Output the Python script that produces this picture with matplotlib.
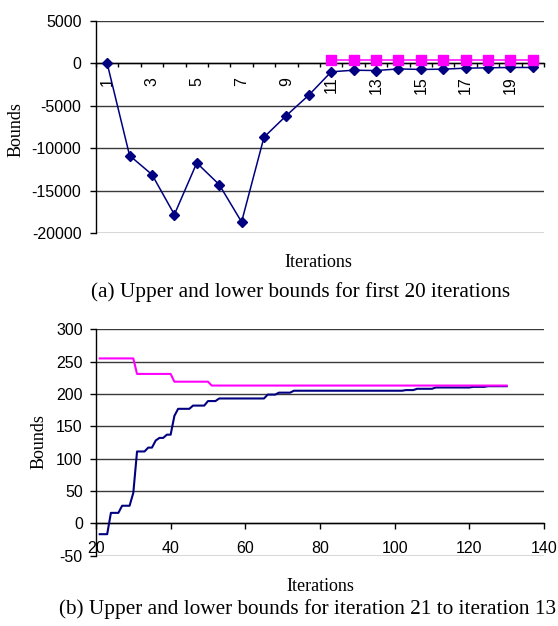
import numpy as np
import matplotlib.pyplot as plt

plt.rcParams['font.family'] = ['Liberation Sans', 'DejaVu Sans']
plt.rcParams['axes.unicode_minus'] = False

# ---- (a) 前20次迭代的上下界 ----
iter_a = [1, 2, 3, 4, 5, 6, 7, 8, 9, 10,
          11, 12, 13, 14, 15, 16, 17, 18, 19, 20]
lower_a = [0, -10840, -13080, -17790, -11710, -14260, -18660, -8680, -6130, -3730,
           -980, -790, -830, -640, -700, -670, -550, -510, -470, -470]
upper_a = [np.nan, np.nan, np.nan, np.nan, np.nan, np.nan, np.nan, np.nan, np.nan, np.nan,
           400, 400, 400, 400, 400, 400, 400, 400, 400, 400]
xlabels_a = ['1', '3', '5', '7', '9', '11', '13', '15', '17', '19']
yticks_a = [-20000, -15000, -10000, -5000, 0, 5000]

# ---- (b) 第21到130次迭代 ----
iter_b = [21, 22, 23, 24, 25, 26, 27, 28, 29, 30,
          31, 32, 33, 34, 35, 36, 37, 38, 39, 40,
          41, 42, 43, 44, 45, 46, 47, 48, 49, 50,
          51, 52, 53, 54, 55, 56, 57, 58, 59, 60,
          61, 62, 63, 64, 65, 66, 67, 68, 69, 70,
          71, 72, 73, 74, 75, 76, 77, 78, 79, 80,
          81, 82, 83, 84, 85, 86, 87, 88, 89, 90,
          91, 92, 93, 94, 95, 96, 97, 98, 99, 100,
          101, 102, 103, 104, 105, 106, 107, 108, 109, 110,
          111, 112, 113, 114, 115, 116, 117, 118, 119, 120,
          121, 122, 123, 124, 125, 126, 127, 128, 129, 130]
lower_b = [-17, -17, -17, 16, 16, 16, 27, 27, 27, 47,
           111, 111, 111, 117, 117, 128, 132, 132, 137, 137,
           166, 177, 177, 177, 177, 182, 182, 182, 182, 189,
           189, 189, 193, 193, 193, 193, 193, 193, 193, 193,
           193, 193, 193, 193, 193, 199, 199, 199, 202, 202,
           202, 202, 205, 205, 205, 205, 205, 205, 205, 205,
           205, 205, 205, 205, 205, 205, 205, 205, 205, 205,
           205, 205, 205, 205, 205, 205, 205, 205, 205, 205,
           205, 205, 206, 206, 206, 208, 208, 208, 208, 208,
           210, 210, 210, 210, 210, 210, 210, 210, 210, 210,
           211, 211, 211, 211, 212, 212, 212, 212, 212, 212]
upper_b = [255, 255, 255, 255, 255, 255, 255, 255, 255, 255,
           231, 231, 231, 231, 231, 231, 231, 231, 231, 231,
           219, 219, 219, 219, 219, 219, 219, 219, 219, 219,
           213, 213, 213, 213, 213, 213, 213, 213, 213, 213,
           213, 213, 213, 213, 213, 213, 213, 213, 213, 213,
           213, 213, 213, 213, 213, 213, 213, 213, 213, 213,
           213, 213, 213, 213, 213, 213, 213, 213, 213, 213,
           213, 213, 213, 213, 213, 213, 213, 213, 213, 213,
           213, 213, 213, 213, 213, 213, 213, 213, 213, 213,
           213, 213, 213, 213, 213, 213, 213, 213, 213, 213,
           213, 213, 213, 213, 213, 213, 213, 213, 213, 213]
xticks_b = [20, 40, 60, 80, 100, 120, 140]
yticks_b = [-50, 0, 50, 100, 150, 200, 250, 300]

NAVY = '#000080'
PINK = '#FF00FF'
GRID = '#3a3a3a'
SERIF = 'Liberation Serif'
TICK_FS = 11.5
LABEL_FS = 13
CAP_FS = 15.3


def style_axes(ax):
	"""Excel风格: 只保留左轴和零线, 水平网格"""
	ax.spines['top'].set_visible(False)
	ax.spines['right'].set_visible(False)
	ax.spines['bottom'].set_position(('data', 0))
	ax.spines['left'].set_linewidth(1.0)
	ax.spines['bottom'].set_linewidth(1.0)
	ax.yaxis.grid(True, color=GRID, linewidth=1.0)
	ax.set_axisbelow(True)
	ax.tick_params(axis='y', direction='out', length=4.5, width=1.0,
	               labelsize=TICK_FS)


fig = plt.figure(figsize=(5.58, 6.26), dpi=100)

# ---------- 上图 ----------
ax1 = fig.add_axes([0.1720, 0.6273, 0.8029, 0.3391])
style_axes(ax1)
ax1.plot(iter_a, lower_a, color=NAVY, linewidth=1.1, marker='D',
         markersize=4.8, zorder=3)
ax1.plot(iter_a, upper_a, color=PINK, linewidth=1.1, marker='s',
         markersize=6.5, zorder=3)
ax1.set_xlim(0.5, 20.5)
ax1.set_ylim(-20000, 5000)
ax1.set_yticks(yticks_a)
ax1.tick_params(axis='y', pad=6)
# 类别边界处的小刻度, 标签放在类别中心
ax1.set_xticks(np.arange(0.5, 21, 1.0))
ax1.set_xticklabels([])
ax1.tick_params(axis='x', which='major', direction='out', length=3, width=1.0)
ax1.set_xticks(iter_a[::2], labels=xlabels_a, minor=True)
ax1.tick_params(axis='x', which='minor', length=0, pad=9.5,
                labelsize=TICK_FS, labelrotation=90)
ax1.set_ylabel('Bounds', family=SERIF, fontsize=LABEL_FS, va='center')
ax1.yaxis.set_label_coords(-0.1786, 0.49)
ax1.set_xlabel('Iterations', family=SERIF, fontsize=LABEL_FS, va='center')
ax1.xaxis.set_label_coords(0.4967, -0.1366)

# ---------- 下图 ----------
ax2 = fig.add_axes([0.1720, 0.1126, 0.8029, 0.3613])
style_axes(ax2)
ax2.plot(iter_b, lower_b, color=NAVY, linewidth=1.5, zorder=3)
ax2.plot(iter_b, upper_b, color=PINK, linewidth=1.5, zorder=3)
ax2.set_xlim(20, 140)
ax2.set_ylim(-50, 300)
ax2.set_yticks(yticks_b)
ax2.tick_params(axis='y', pad=5)
ax2.set_xticks(xticks_b)
ax2.tick_params(axis='x', direction='out', length=4.5, width=1.0,
                pad=8, labelsize=TICK_FS)
ax2.set_ylabel('Bounds', family=SERIF, fontsize=LABEL_FS, va='center')
ax2.yaxis.set_label_coords(-0.127, 0.503)
ax2.set_xlabel('Iterations', family=SERIF, fontsize=LABEL_FS, va='center')
ax2.xaxis.set_label_coords(0.50, -0.138)

# ---------- 图注 ----------
fig.text(300.7 / 558, 1 - 291.7 / 626,
         '(a) Upper and lower bounds for first 20 iterations',
         family=SERIF, fontsize=CAP_FS, ha='center', va='center')
fig.text(58.7 / 558, 1 - 609 / 626,
         '(b) Upper and lower bounds for iteration 21 to iteration 13',
         family=SERIF, fontsize=CAP_FS, ha='left', va='center')

fig.savefig('out.png', dpi=100)
plt.close(fig)
